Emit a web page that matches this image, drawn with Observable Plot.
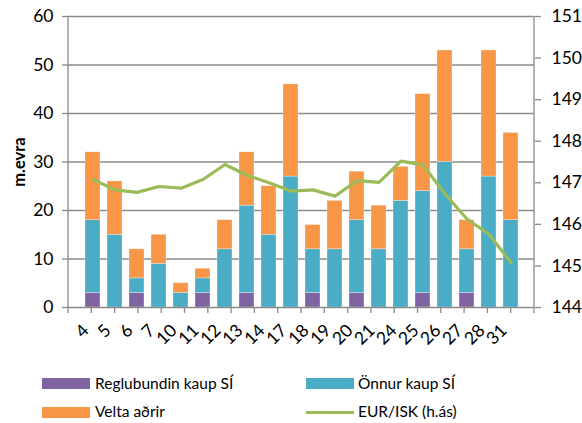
<!DOCTYPE html>
<html><head><meta charset="utf-8">
<script src="https://cdn.jsdelivr.net/npm/d3@7"></script>
<script src="https://cdn.jsdelivr.net/npm/@observablehq/plot@0.6"></script>
<style>
body{margin:0;background:#fff;font-family:Lato,"Open Sans",sans-serif;}
#wrap{position:relative;width:582px;height:423px;overflow:hidden;}
#chart svg{display:block;font-family:Lato,"Open Sans",sans-serif;}
.lg{position:absolute;font-size:15.5px;color:#000;line-height:1;white-space:nowrap;}
.sw{position:absolute;width:48px;height:11px;}
</style></head>
<body><div id="wrap"><div id="chart"></div>
<div class="sw" style="left:42px;top:378px;background:#8064A2"></div>
<div class="lg" style="left:95px;top:376px">Reglubundin kaup SÍ</div>
<div class="sw" style="left:306px;top:378px;background:#4BACC6"></div>
<div class="lg" style="left:358px;top:376px">Önnur kaup SÍ</div>
<div class="sw" style="left:42px;top:407px;background:#F79646"></div>
<div class="lg" style="left:95px;top:404px">Velta aðrir</div>
<div class="sw" style="left:306px;top:411px;height:3px;background:#9BBB59"></div>
<div class="lg" style="left:358px;top:404px">EUR/ISK (h.ás)</div>
</div>
<script>
const categories = ["4","5","6","7","10","11","12","13","14","17","18","19","20","21","24","25","26","27","28","31"];
const regular = [3,0,3,0,0,3,0,3,0,0,3,0,3,0,0,3,0,3,0,0];
const otherSI = [15,15,3,9,3,3,12,18,15,27,9,12,15,12,22,21,30,9,27,18];
const turnoverOthers = [14,11,6,6,2,2,6,11,10,19,5,10,10,9,7,20,23,6,26,18];
const eurisk = [147.08,146.83,146.77,146.91,146.87,147.08,147.44,147.18,147.0,146.8,146.83,146.68,147.05,147.01,147.52,147.43,146.73,146.13,145.76,145.08];
const seriesNames = ["Reglubundin kaup SÍ","Önnur kaup SÍ","Velta aðrir"];
const seriesColors = ["#8064A2","#4BACC6","#F79646"];
const leftTicks = [0,10,20,30,40,50,60];
const rightTicks = [144,145,146,147,148,149,150,151];
const leftDomain = [0,60];
const rightDomain = [144,151];
const yLabel = "m.evra";

const toLeft = v => (v - rightDomain[0]) * (leftDomain[1]-leftDomain[0]) / (rightDomain[1]-rightDomain[0]) + leftDomain[0];
const fromLeft = d => Math.round((d - leftDomain[0]) * (rightDomain[1]-rightDomain[0]) / (leftDomain[1]-leftDomain[0]) + rightDomain[0]);

const rows = [];
categories.forEach((c,i)=>{
  [regular[i], otherSI[i], turnoverOthers[i]].forEach((v,k)=>{
    rows.push({day:c, series:seriesNames[k], value:v});
  });
});
const lineRows = categories.map((c,i)=>({day:c, v: toLeft(eurisk[i])}));
const gray = "#8a8a8a";

function frameLines(index, scales, values, dim) {
  const {width, height, marginLeft, marginRight, marginTop, marginBottom} = dim;
  const g = d3.create("svg:g").attr("stroke", gray).attr("stroke-width", 1.3).attr("fill","none");
  const x0 = marginLeft, x1 = width - marginRight, yb = height - marginBottom, yt = marginTop;
  g.append("line").attr("x1", x0).attr("x2", x0).attr("y1", yt).attr("y2", yb);
  g.append("line").attr("x1", x1).attr("x2", x1).attr("y1", yt).attr("y2", yb);
  const n = categories.length;
  const step = (x1 - x0) / n;
  for (let i = 0; i <= n; i++) {
    const x = x0 + i*step;
    g.append("line").attr("x1", x).attr("x2", x).attr("y1", yb).attr("y2", yb+6);
  }
  return g.node();
}

const chart = Plot.plot({
  width: 582,
  height: 365,
  marginLeft: 68,
  marginRight: 48,
  marginTop: 16,
  marginBottom: 58,
  style: {fontSize: "17.5px", fontFamily: "Lato, 'Open Sans', sans-serif", color: "#000"},
  x: {domain: categories, padding: 0.32, label: null},
  y: {domain: leftDomain, label: null},
  color: {domain: seriesNames, range: seriesColors},
  marks: [
    Plot.ruleY(leftTicks.filter(d=>d>0), {stroke: gray, strokeWidth: 1.3}),
    Plot.barY(rows, {x:"day", y:"value", fill:"series", stroke:"#fff", strokeOpacity:0.5, strokeWidth:0.6}),
    Plot.ruleY([0], {stroke: gray, strokeWidth: 1.3}),
    frameLines,
    Plot.lineY(lineRows, {x:"day", y:"v", stroke:"#9BBB59", strokeWidth:3.2}),
    Plot.axisY(leftTicks, {anchor:"left", tickSize:6, tickPadding:9, stroke: gray, strokeWidth:1.3, label:null}),
    Plot.axisY(rightTicks.map(toLeft), {anchor:"right", tickSize:6, tickPadding:11, stroke: gray, strokeWidth:1.3, tickFormat: fromLeft, label:null}),
    Plot.axisX({tickSize:0, tickRotate:-45, tickPadding:20, dx:-7, label:null}),
    Plot.text([yLabel], {text: d=>d, frameAnchor:"left", textAnchor:"middle", rotate:-90, dx:-49, fontWeight:"bold", fontSize:16.5, fill:"#000"})
  ]
});
document.getElementById("chart").appendChild(chart);
</script>
</body></html>
